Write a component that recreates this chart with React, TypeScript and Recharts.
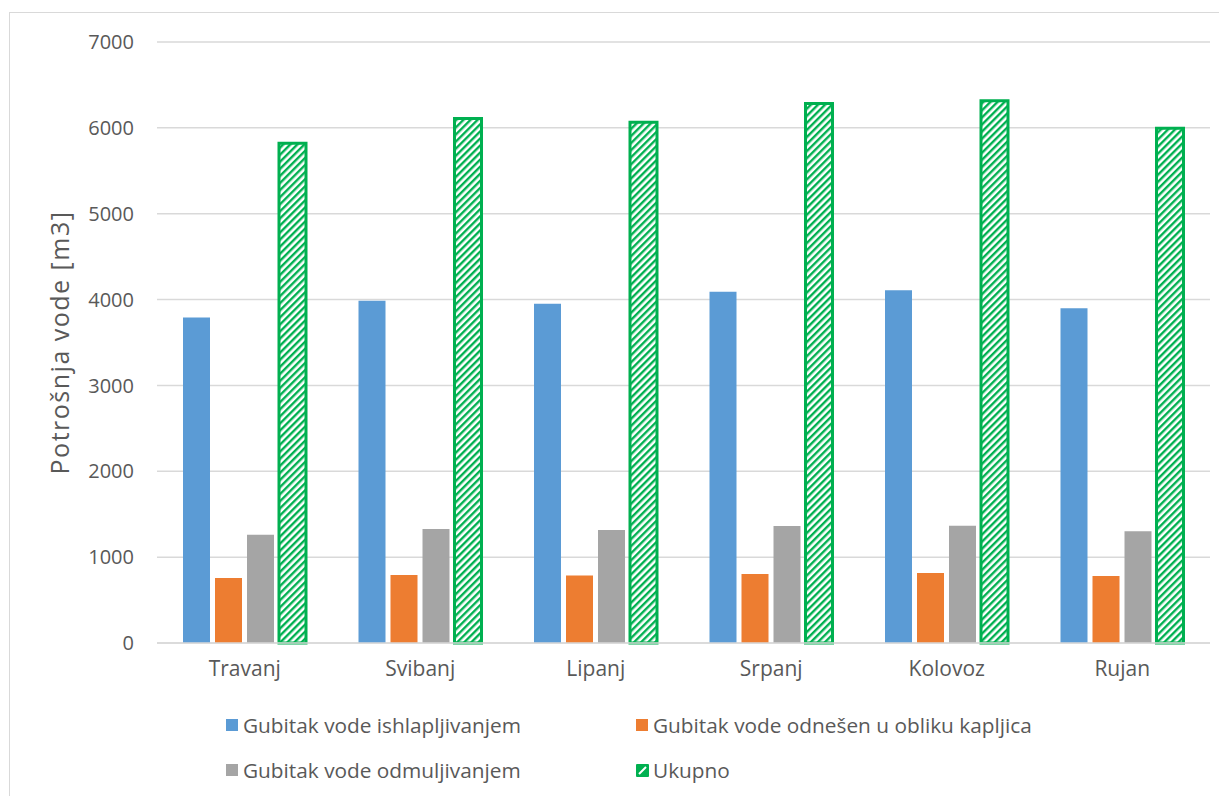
import React from 'react';
import { BarChart, Bar, XAxis, YAxis, CartesianGrid, Label } from 'recharts';

const months = ['Travanj', 'Svibanj', 'Lipanj', 'Srpanj', 'Kolovoz', 'Rujan'];
const isparavanje = [3790, 3985, 3950, 4090, 4110, 3900];
const kapljice = [757, 792, 785, 805, 815, 780];
const odmuljivanje = [1260, 1328, 1316, 1363, 1365, 1302];
const ukupno = [5820, 6110, 6065, 6285, 6315, 5995];
const yTicks = [0, 1000, 2000, 3000, 4000, 5000, 6000, 7000];

const series = [
  { key: 'isp', name: 'Gubitak vode ishlapljivanjem', color: '#5B9BD5' },
  { key: 'kap', name: 'Gubitak vode odnešen u obliku kapljica', color: '#ED7D31' },
  { key: 'odm', name: 'Gubitak vode odmuljivanjem', color: '#A5A5A5' },
  { key: 'uk', name: 'Ukupno', color: '#00B050' },
];

const data = months.map((m, i) => ({
  month: m,
  isp: isparavanje[i],
  kap: kapljice[i],
  odm: odmuljivanje[i],
  uk: ukupno[i],
}));

const font = '"Open Sans", "Noto Sans", sans-serif';
const textColor = '#595959';

const Hatch = ({ id }: { id: string }) => (
  <pattern id={id} width="5" height="5" patternUnits="userSpaceOnUse" patternTransform="rotate(45)">
    <rect width="5" height="5" fill="#ffffff" />
    <rect width="2.4" height="5" fill="#00B050" />
  </pattern>
);

const LegendBox = () => (
  <div
    style={{
      position: 'absolute',
      left: 216,
      top: 700,
      display: 'grid',
      gridTemplateColumns: '410px 420px',
      rowGap: 21,
      fontFamily: font,
      fontSize: 20.8,
      color: textColor,
    }}
  >
    {series.map((s) => (
      <div key={s.key} style={{ display: 'flex', alignItems: 'center', height: 24 }}>
        {s.key === 'uk' ? (
          <svg width={13} height={13} style={{ marginRight: 4 }}>
            <rect x={0} y={0} width={13} height={13} rx={1} fill="#00B050" />
            <path d="M3 10 L10 3" stroke="#ffffff" strokeWidth={2} />
          </svg>
        ) : (
          <div style={{ width: 12, height: 12, background: s.color, marginRight: 5 }} />
        )}
        <span>{s.name}</span>
      </div>
    ))}
  </div>
);

export default function App() {
  return (
    <div
      style={{
        position: 'relative',
        marginLeft: 1,
        marginTop: 4,
        width: 1240,
        height: 800,
        border: '1px solid #d9d9d9',
        boxSizing: 'border-box',
        background: '#fff',
      }}
    >
      <div style={{ position: 'absolute', left: 0, top: 0 }}>
        <BarChart
          width={1217}
          height={783}
          data={data}
          margin={{ top: 29, right: 17, bottom: 123, left: 0 }}
          barSize={27}
          barGap={5}
        >
          <defs>
            <Hatch id="hatchBar" />
          </defs>
          <CartesianGrid vertical={false} stroke="#d9d9d9" strokeWidth={1.5} />
          <XAxis
            dataKey="month"
            height={30}
            axisLine={{ stroke: '#d9d9d9', strokeWidth: 1.5 }}
            tickLine={false}
            tickSize={0}
            tickMargin={18}
            tick={{ fontSize: 21, fill: textColor, fontFamily: font }}
          />
          <YAxis
            width={147}
            domain={[0, 7000]}
            ticks={yTicks}
            axisLine={false}
            tickLine={false}
            tickSize={0}
            tickMargin={23}
            tick={{ fontSize: 20, fill: textColor, fontFamily: font }}
          >
            <Label
              value="Potrošnja vode [m3]"
              angle={-90}
              position="insideLeft"
              offset={50}
              style={{ textAnchor: 'middle', fontSize: 25, letterSpacing: 1.5, fill: textColor, fontFamily: font }}
            />
          </YAxis>
          {series.map((s) =>
            s.key === 'uk' ? (
              <Bar
                key={s.key}
                dataKey={s.key}
                name={s.name}
                fill="url(#hatchBar)"
                stroke="#00B050"
                strokeWidth={3}
                isAnimationActive={false}
              />
            ) : (
              <Bar key={s.key} dataKey={s.key} name={s.name} fill={s.color} isAnimationActive={false} />
            )
          )}
        </BarChart>
      </div>
      <LegendBox />
    </div>
  );
}
